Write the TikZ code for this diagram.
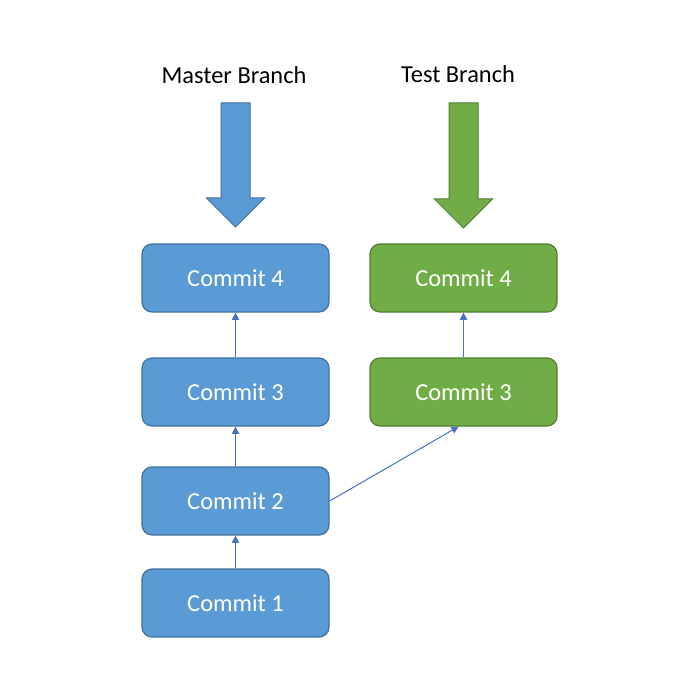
\documentclass[tikz,border=0pt]{standalone}
\usepackage{fontspec}
\setmainfont{Carlito}
\usetikzlibrary{arrows.meta}
\definecolor{mblue}{HTML}{5B9BD5}
\definecolor{mblueline}{HTML}{41719C}
\definecolor{mgreen}{HTML}{70AD47}
\definecolor{mgreenline}{HTML}{507E32}
\definecolor{linkblue}{HTML}{4472C4}
\tikzset{
  commitbox/.style={draw=mblueline, fill=mblue, line width=0.6pt, rounded corners=5pt,
    minimum width=93.5pt, minimum height=34pt, text=white, font=\fontsize{12.2}{14}\selectfont, inner sep=0pt},
  greenbox/.style={commitbox, draw=mgreenline, fill=mgreen},
  titlelabel/.style={text=black, font=\fontsize{12.2}{14}\selectfont, inner sep=0pt},
  link/.style={draw=linkblue, line width=0.5pt, -{Triangle[width=3.6pt,length=3.6pt]}},
  bigblue/.style={fill=mblue, draw=mblueline, line width=0.5pt},
  biggreen/.style={fill=mgreen, draw=mgreenline, line width=0.5pt}
}
\begin{document}
\begin{tikzpicture}[x=0.5pt,y=-0.5pt]
\useasboundingbox[fill=white] (0,0) rectangle (700,700);

\node[titlelabel] (mt) at (234,75) {Master Branch};
\node[titlelabel] (tt) at (458,74) {Test Branch};

\draw[bigblue] (221,103) -- (250,103) -- (250,198) -- (264.5,198) -- (235.5,227) -- (206.5,198) -- (221,198) -- cycle;
\draw[biggreen] (449,103) -- (478,103) -- (478,199) -- (492.5,199) -- (463.5,228) -- (434.5,199) -- (449,199) -- cycle;

\node[commitbox] (m4) at (235.5,278) {Commit 4};
\node[commitbox] (m3) at (235.5,392) {Commit 3};
\node[commitbox] (m2) at (235.5,501) {Commit 2};
\node[commitbox] (m1) at (235.5,603) {Commit 1};

\node[greenbox] (g4) at (463.5,278) {Commit 4};
\node[greenbox] (g3) at (463.5,392) {Commit 3};

\draw[link] (m1) -- (m2);
\draw[link] (m2) -- (m3);
\draw[link] (m3) -- (m4);
\draw[link] (g3) -- (g4);
\draw[link] (m2.east) -- ([xshift=-2.5pt]g3.south);
\end{tikzpicture}
\end{document}
